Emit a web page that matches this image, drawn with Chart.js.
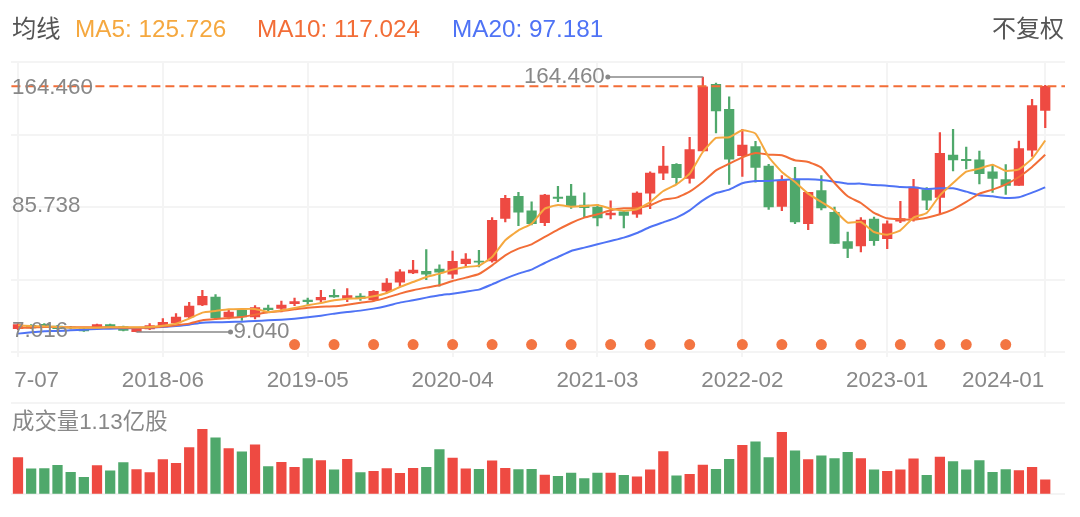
<!DOCTYPE html>
<html>
<head>
<meta charset="utf-8">
<script src="https://cdn.jsdelivr.net/npm/chart.js@4"></script>
<style>
  html, body { margin: 0; background: #fff; width: 1080px; height: 517px; overflow: hidden; }
  body { position: relative; font-family: "Liberation Sans", "Noto Sans CJK SC", sans-serif; }
  canvas { position: absolute; left: 0; }
  .t { position: absolute; font-size: 24.3px; line-height: 30px; white-space: nowrap; }
</style>
</head>
<body>
<canvas id="priceChart" width="1080" height="400" style="top:0"></canvas>
<canvas id="volumeChart" width="1080" height="117" style="top:400px"></canvas>
<div class="t" style="left:12px;top:14px;color:#555">均线</div>
<div class="t" style="left:75px;top:14px;color:#f5a83f">MA5: 125.726</div>
<div class="t" style="left:257px;top:14px;color:#f26d37">MA10: 117.024</div>
<div class="t" style="left:452px;top:14px;color:#4f73f5">MA20: 97.181</div>
<div class="t" style="right:16px;top:14px;color:#555;font-size:24px">不复权</div>
<div class="t" style="left:12px;top:407px;color:#888;font-size:22.4px">成交量1.13亿股</div>
<script>
const months = [
  '2017-07','2017-08','2017-09','2017-10','2017-11','2017-12',
  '2018-01','2018-02','2018-03','2018-04','2018-05','2018-06','2018-07','2018-08','2018-09','2018-10','2018-11','2018-12',
  '2019-01','2019-02','2019-03','2019-04','2019-05','2019-06','2019-07','2019-08','2019-09','2019-10','2019-11','2019-12',
  '2020-01','2020-02','2020-03','2020-04','2020-05','2020-06','2020-07','2020-08','2020-09','2020-10','2020-11','2020-12',
  '2021-01','2021-02','2021-03','2021-04','2021-05','2021-06','2021-07','2021-08','2021-09','2021-10','2021-11','2021-12',
  '2022-01','2022-02','2022-03','2022-04','2022-05','2022-06','2022-07','2022-08','2022-09','2022-10','2022-11','2022-12',
  '2023-01','2023-02','2023-03','2023-04','2023-05','2023-06','2023-07','2023-08','2023-09','2023-10','2023-11','2023-12',
  '2024-01',''
];
const xTickLabels = ['2017-07','2018-06','2019-05','2020-04','2021-03','2022-02','2023-01','2024-01'];
const yGridValues = [-3.2, 41, 85.2, 129.4, 173.6];
const yTickLabels = ['164.460', '85.738', '7.016'];

const opens = [11.04,13.08,13.68,12.67,12.06,11.0,11.45,13.48,12.26,9.2,10.84,12.06,14.49,18.16,25.47,30.35,18.16,22.2,18.16,23.64,
  23.44,26.28,28.5,28.5,31.36,29.53,30.95,28.7,34.0,39.3,45.0,46.0,47.4,44.2,50.7,52.3,52.3,78.3,91.7,82.8,
  75.6,91.3,91.9,86.4,85.2,80.3,82.2,80.9,93.7,105.9,111.2,102.7,119.4,160.0,144.7,116.5,122.0,110.2,85.6,101.5,
  75.0,95.2,82.0,64.1,61.4,77.9,65.9,76.5,78.3,95.8,91.1,116.9,114.3,113.9,106.7,101.9,98.4,119.8,144.1];
const closes = [13.48,11.45,12.06,11.04,11.45,9.6,13.48,11.65,10.0,11.45,12.87,14.9,18.16,24.86,30.75,17.75,21.2,18.16,23.85,22.62,
  25.47,27.5,27.5,30.14,30.35,31.16,29.53,33.8,38.88,45.6,46.8,44.2,45.4,52.1,53.5,51.5,77.1,90.5,82.0,75.0,
  92.5,90.5,85.6,84.8,78.5,81.5,80.1,93.7,105.9,110.2,103.1,120.2,158.4,143.7,114.3,123.0,109.4,85.2,101.5,76.1,
  94.1,84.6,63.0,60.0,77.3,64.7,74.9,78.1,97.4,89.3,117.9,113.9,113.5,105.5,102.7,98.4,120.8,147.0,158.8];
const highs = [14.09,13.48,14.09,13.08,12.47,11.4,13.88,13.88,12.67,11.85,14.09,17.1,20.19,27.1,34.4,31.77,22.62,23.24,25.06,25.47,
  27.9,29.7,29.7,34.4,34.8,35.4,32.4,34.2,41.5,47.0,52.7,59.2,50.0,58.4,56.8,58.8,78.7,92.3,94.2,88.4,
  92.9,97.8,99.0,93.9,86.8,88.9,82.8,94.4,106.7,122.2,111.6,127.7,164.46,160.8,152.3,132.6,125.2,111.2,104.3,109.4,
  94.1,104.3,85.2,69.9,78.7,79.1,76.7,88.7,102.1,97.0,130.5,132.6,121.8,119.3,111.0,111.0,125.4,150.8,159.4];
const lows = [10.43,11.04,11.65,10.84,10.84,9.3,11.04,11.2,9.6,9.04,10.43,11.65,14.09,17.75,25.06,16.53,16.93,16.12,16.93,21.81,
  21.2,25.06,25.88,27.3,30.14,27.5,28.3,27.9,32.8,36.9,44.6,40.9,36.9,41.7,49.0,48.6,51.5,76.1,73.8,74.2,
  73.8,88.4,84.4,78.7,73.6,77.9,72.4,78.9,84.2,101.9,99.4,99.8,119.4,130.3,99.0,103.9,100.4,83.8,83.0,75.0,
  71.4,83.4,62.9,54.3,57.8,61.8,59.8,75.6,76.5,83.6,80.7,107.2,108.4,99.2,94.1,92.9,98.4,116.1,133.6];
const ma5 = [13.08,12.67,12.47,12.06,11.65,11.65,11.65,11.86,11.86,11.86,12.06,12.87,14.09,17.14,20.8,21.81,22.83,23.03,23.03,21.2,
  22.22,23.64,25.27,26.69,28.32,29.33,29.54,30.76,32.79,36.44,39.49,42.54,44.57,47.01,48.64,49.45,54.73,64.89,70.99,75.05,
  84.2,86.43,85.41,85.82,86.43,84.2,82.98,83.79,88.26,94.97,99.03,105.53,118.74,127.27,127.68,131.95,129.92,115.69,106.55,100.45,
  93.34,88.26,83.18,75.66,76.07,69.97,68.35,70.99,78.71,81.55,92.33,99.84,106.75,108.58,111.02,107.16,108.17,114.68,125.73];
const ma10 = [11.45,11.65,12.06,12.06,11.86,11.86,11.86,11.86,11.65,11.65,11.65,12.27,13.08,14.09,16.12,16.93,17.55,18.16,19.58,21.0,
  21.81,22.83,23.85,24.45,24.66,25.67,26.89,27.91,29.94,32.38,34.41,36.04,37.46,40.1,42.13,44.37,49.65,55.75,59.81,62.45,
  66.92,71.4,75.46,78.71,80.74,83.18,84.4,84.6,86.23,89.68,90.9,94.56,100.45,107.56,111.63,115.49,118.13,117.11,116.71,113.66,
  112.64,109.19,99.84,91.71,87.65,81.55,78.3,77.69,77.49,78.71,80.74,83.79,88.26,93.34,95.78,99.03,103.5,109.6,117.02];
const ma20 = [8.0,8.81,9.42,9.62,10.03,10.43,10.84,11.04,11.25,11.45,11.65,12.06,12.67,13.48,14.7,14.91,15.11,15.31,15.72,16.12,
  16.53,17.14,17.95,18.97,20.19,21.2,22.02,23.24,24.86,26.89,28.32,29.94,31.36,32.38,33.6,34.82,38.07,41.52,44.57,47.01,
  51.07,54.73,58.39,60.42,62.45,64.49,66.52,69.36,73.02,75.86,78.71,83.18,89.27,93.75,95.78,99.64,101.06,101.06,101.67,102.08,
  102.08,101.67,100.66,99.44,99.44,98.62,98.22,97.4,97.2,96.18,96.59,96.59,94.56,92.33,91.71,90.7,91.1,93.95,97.18];
const volumes = [2.89,2.0,2.02,2.29,1.73,1.34,2.26,1.84,2.5,1.94,1.71,2.73,2.44,3.68,5.12,4.44,3.6,3.34,3.89,2.18,
  2.52,2.13,2.81,2.65,1.92,2.76,1.71,1.81,2.02,1.66,2.05,2.13,3.52,2.86,2.0,1.97,2.63,2.05,1.94,1.97,
  1.52,1.42,1.68,1.24,1.68,1.68,1.5,1.37,1.92,3.36,1.45,1.58,2.31,1.97,2.76,3.86,4.13,2.89,4.89,3.42,
  2.73,3.02,2.81,3.31,2.81,1.92,1.81,1.92,2.79,1.5,2.94,2.58,1.92,2.65,1.73,1.94,1.87,2.13,1.13];
const signalMonths = ['2019-04','2019-07','2019-10','2020-01','2020-04','2020-07','2020-10','2021-01','2021-04','2021-07','2021-10',
  '2022-02','2022-05','2022-08','2022-11','2023-02','2023-05','2023-07','2023-10'];
const signalLevel = 1.3;
const highPoint = { month: '2021-11', value: 164.46, text: '164.460' };
const lowPoint = { month: '2018-04', value: 9.04, text: '9.040' };

const RED = '#ee4a42', GREEN = '#4fa86b', GRID = '#f4f4f4', GRAY = '#888888';
const candleColors = closes.map((c, i) => (c >= opens[i] ? RED : GREEN));
const LABEL_FONT = '22.4px "Liberation Sans"';

// lines and text that the dataset types do not cover
const overlays = {
  id: 'overlays',
  afterDatasetsDraw(chart) {
    const { ctx, chartArea, scales } = chart;
    const x = scales.x, y = scales.y;
    ctx.save();
    // last price dashed line
    const lastY = y.getPixelForValue(closes[closes.length - 1]);
    ctx.strokeStyle = '#f26d37';
    ctx.lineWidth = 2;
    ctx.setLineDash([9, 5]);
    ctx.beginPath();
    ctx.moveTo(chartArea.left, lastY);
    ctx.lineTo(chartArea.right, lastY);
    ctx.stroke();
    ctx.setLineDash([]);

    // x labels, the first is cut by the edge of the plot and the last sits left of its tick
    ctx.font = LABEL_FONT;
    ctx.fillStyle = GRAY;
    ctx.textBaseline = 'middle';
    xTickLabels.forEach((label, i) => {
      const px = x.getPixelForValue(months.indexOf(label));
      ctx.save();
      if (i === 0) {
        ctx.beginPath();
        ctx.rect(14.5, 360, 100, 40);
        ctx.clip();
      }
      ctx.textAlign = i === xTickLabels.length - 1 ? 'right' : 'center';
      ctx.fillText(label, i === xTickLabels.length - 1 ? px - 1 : px, 381);
      ctx.restore();
    });

    // y labels, the outer two are pulled inwards
    ctx.textAlign = 'left';
    const yShift = [11, 0, -4];
    yTickLabels.forEach((label, i) => {
      ctx.fillText(label, 12, y.getPixelForValue(parseFloat(label)) + yShift[i]);
    });

    // high and low callouts
    ctx.strokeStyle = GRAY;
    ctx.lineWidth = 1.5;
    const hx = x.getPixelForValue(months.indexOf(highPoint.month));
    const hy = y.getPixelForValue(highPoint.value);
    ctx.beginPath();
    ctx.moveTo(hx, hy);
    ctx.lineTo(hx - 95, hy);
    ctx.stroke();
    ctx.beginPath();
    ctx.arc(hx - 95, hy, 2.5, 0, Math.PI * 2);
    ctx.fill();
    ctx.textAlign = 'right';
    ctx.fillText(highPoint.text, hx - 98, hy);
    const lx = x.getPixelForValue(months.indexOf(lowPoint.month));
    const ly = y.getPixelForValue(lowPoint.value);
    ctx.beginPath();
    ctx.moveTo(lx, ly);
    ctx.lineTo(lx + 94, ly);
    ctx.stroke();
    ctx.beginPath();
    ctx.arc(lx + 94, ly, 2.5, 0, Math.PI * 2);
    ctx.fill();
    ctx.textAlign = 'left';
    ctx.fillText(lowPoint.text, lx + 97, ly);
    ctx.restore();
  }
};

function maLine(label, data, color) {
  return { type: 'line', label, data, borderColor: color, borderWidth: 2, pointRadius: 0, tension: 0.15, order: 1, clip: false };
}

const xGridIndexes = xTickLabels.map(l => months.indexOf(l));

new Chart(document.getElementById('priceChart'), {
  data: {
    labels: months,
    datasets: [
      { type: 'bar', label: 'wick', data: lows.map((l, i) => [l, highs[i]]), backgroundColor: candleColors,
        barThickness: 1.6, grouped: false, order: 3 },
      { type: 'bar', label: 'candle', data: opens.map((o, i) => [o, closes[i]]), backgroundColor: candleColors,
        barThickness: 9.6, grouped: false, order: 2 },
      maLine('MA5', ma5, '#f5a83f'),
      maLine('MA10', ma10, '#f26d37'),
      maLine('MA20', ma20, '#4f73f5'),
      { type: 'line', label: 'signal', data: months.map(m => (signalMonths.includes(m) ? signalLevel : null)),
        showLine: false, pointRadius: 5.5, pointBackgroundColor: '#f37542', pointBorderWidth: 0, order: 1 }
    ]
  },
  options: {
    responsive: false,
    animation: false,
    layout: { padding: { left: 11.4, right: 15, top: 62, bottom: 43 } },
    plugins: { legend: { display: false }, tooltip: { enabled: false } },
    scales: {
      x: {
        type: 'category',
        offset: true,
        afterFit(scale) { scale.height = 5; },
        border: { display: false },
        grid: {
          offset: false,
          lineWidth: 2,
          tickLength: 5,
          color: c => (xGridIndexes.includes(c.index) ? GRID : 'transparent')
        },
        ticks: { autoSkip: false, display: false }
      },
      y: {
        min: yGridValues[0],
        max: yGridValues[yGridValues.length - 1],
        afterBuildTicks(scale) { scale.ticks = yGridValues.map(value => ({ value })); },
        afterFit(scale) { scale.width = 0; },
        border: { display: false },
        grid: { color: GRID, lineWidth: 2, drawTicks: false },
        ticks: { display: false }
      }
    }
  },
  plugins: [overlays]
});

new Chart(document.getElementById('volumeChart'), {
  data: {
    labels: months,
    datasets: [
      { type: 'bar', label: '成交量', data: volumes, backgroundColor: candleColors, barThickness: 9.6 }
    ]
  },
  options: {
    responsive: false,
    animation: false,
    layout: { padding: { left: 11.4, right: 15, top: 3, bottom: 22.7 } },
    plugins: { legend: { display: false }, tooltip: { enabled: false } },
    scales: {
      x: { display: false, offset: true },
      y: {
        min: 0,
        max: 7.19,
        afterBuildTicks(scale) { scale.ticks = [{ value: 0 }, { value: 7.19 }]; },
        afterFit(scale) { scale.width = 0; },
        border: { display: false },
        grid: { color: GRID, lineWidth: 2, drawTicks: false },
        ticks: { display: false }
      }
    }
  }
});
</script>
</body>
</html>
